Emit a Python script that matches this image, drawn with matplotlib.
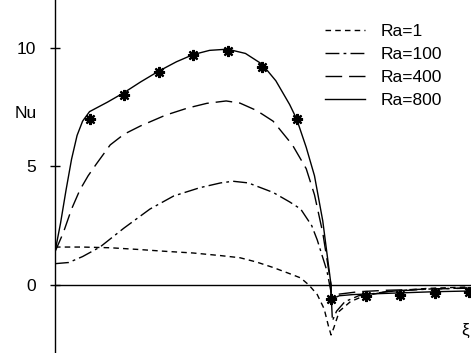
import matplotlib
matplotlib.use("Agg")
import matplotlib.pyplot as plt

plt.rcParams['font.family'] = ['Liberation Sans', 'DejaVu Sans']

# Ra=800 (solid), values
x_800 = [0, 0.02, 0.04, 0.06, 0.08, 0.1, 0.125, 0.19, 0.25, 0.31, 0.375, 0.44, 0.5, 0.56,
         0.625, 0.69, 0.75, 0.8, 0.85, 0.875, 0.91, 0.94, 0.97, 1.0,
         1.0, 1.03, 1.08, 1.125, 1.25, 1.375, 1.5]
y_800 = [1.4, 2.6, 4.0, 5.3, 6.3, 6.9, 7.3, 7.7, 8.1, 8.55, 9.0, 9.4, 9.7, 9.88,
         9.93, 9.75, 9.3, 8.6, 7.6, 7.0, 5.8, 4.6, 2.7, 0.0,
         -0.6, -0.45, -0.4, -0.38, -0.33, -0.28, -0.25]

# asterisk markers on the Ra=800 curve
x_star = [0.125, 0.25, 0.375, 0.5, 0.625, 0.75, 0.875, 1.0, 1.125, 1.25, 1.375, 1.5]
y_star = [7.0, 8.0, 8.96, 9.7, 9.87, 9.18, 6.97, -0.6, -0.48, -0.43, -0.35, -0.3]

# Ra=400 (long dashes)
x_400 = [0, 0.03, 0.06, 0.09, 0.12, 0.15, 0.2, 0.25, 0.31, 0.4, 0.48, 0.55, 0.62, 0.67,
         0.73, 0.79, 0.86, 0.91, 0.94, 0.97, 1.0,
         1.0, 1.03, 1.1, 1.2, 1.35, 1.5]
y_400 = [1.4, 2.2, 3.2, 4.0, 4.6, 5.1, 5.9, 6.35, 6.7, 7.15, 7.45, 7.65, 7.75, 7.66,
         7.35, 6.9, 5.9, 4.9, 3.8, 2.2, 0.0,
         -0.5, -0.38, -0.28, -0.22, -0.17, -0.13]

# Ra=100 (dash-dot)
x_100 = [0, 0.05, 0.1, 0.163, 0.25, 0.344, 0.43, 0.525, 0.6, 0.645, 0.7, 0.79, 0.85,
         0.89, 0.93, 0.95, 0.985, 1.0, 1.005, 1.02, 1.05, 1.1, 1.2, 1.35, 1.5]
y_100 = [0.9, 0.95, 1.2, 1.6, 2.4, 3.2, 3.75, 4.1, 4.3, 4.37, 4.3, 3.9, 3.5,
         3.2, 2.5, 1.9, 0.6, -0.3, -1.5, -1.1, -0.7, -0.45, -0.28, -0.17, -0.12]

# Ra=1 (short dashes)
x_1 = [0, 0.1, 0.2, 0.3, 0.4, 0.5, 0.6, 0.67, 0.73, 0.79, 0.85, 0.89, 0.92, 0.95,
       0.975, 0.99, 1.0, 1.01, 1.03, 1.07, 1.12, 1.2, 1.35, 1.5]
y_1 = [1.6, 1.6, 1.57, 1.5, 1.42, 1.35, 1.24, 1.15, 0.97, 0.74, 0.48, 0.3, 0.0, -0.4,
       -1.0, -1.7, -2.1, -1.8, -1.1, -0.7, -0.45, -0.28, -0.14, -0.08]

labels = ["Ra=1", "Ra=100", "Ra=400", "Ra=800"]

fig = plt.figure(figsize=(4.71, 3.53), dpi=100)
ax = fig.add_axes([55 / 471, 0, 416 / 471, 1])

lw = 1.0
h1, = ax.plot(x_1, y_1, color='black', lw=lw, dashes=(4, 3))
h100, = ax.plot(x_100, y_100, color='black', lw=lw, dashes=(10, 3, 2, 3))
h400, = ax.plot(x_400, y_400, color='black', lw=lw, dashes=(12, 5))
h800, = ax.plot(x_800, y_800, color='black', lw=lw)
ax.plot(x_star, y_star, linestyle='none', marker=(8, 2, 0), markersize=8,
        markeredgewidth=1.6, color='black', clip_on=False)

ax.axhline(0, color='black', lw=1.0)

ax.set_xlim(0, 1.507)
ax.set_ylim(-2.86, 12.0)
for s in ['top', 'right', 'bottom']:
    ax.spines[s].set_visible(False)
ax.spines['left'].set_linewidth(1.0)
ax.set_xticks([])
ax.set_yticks([0, 5, 10])
ax.set_yticklabels(['0', '5', '10'], fontsize=12.5)
ax.tick_params(axis='y', direction='inout', length=7, width=1.0, pad=10)

fig.text(26 / 471, 1 - 113 / 353, "Nu", fontsize=12.5, ha='center', va='center')
fig.text(461 / 471, 1 - 330 / 353, "ξ", fontsize=12.5, ha='left', va='center')

ax.legend([h1, h100, h400, h800], labels, loc='upper left',
          bbox_to_anchor=(325 / 471, 1 - 24 / 353), bbox_transform=fig.transFigure,
          frameon=False, fontsize=12.5, borderpad=0, borderaxespad=0,
          handlelength=2.3, handletextpad=0.9, labelspacing=0.45)

fig.savefig("out.png", dpi=100)
